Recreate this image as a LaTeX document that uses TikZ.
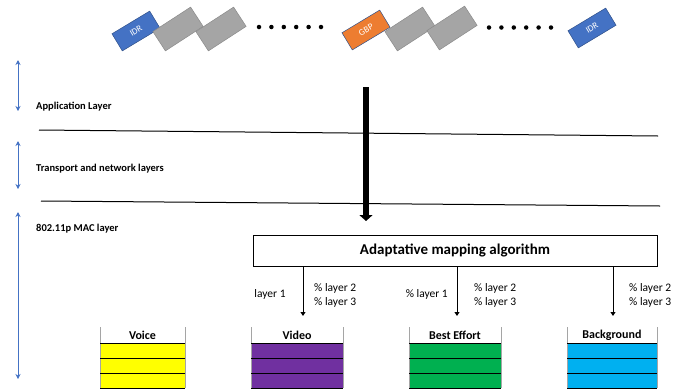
\documentclass[tikz,border=0pt]{standalone}
\usepackage{fontspec}
\setmainfont{Carlito}
\usetikzlibrary{arrows.meta}
\definecolor{ablue}{HTML}{4472C4}
\definecolor{aorange}{HTML}{ED7D31}
\definecolor{agray}{HTML}{A5A5A5}
\definecolor{agrayd}{HTML}{8A8A8A}
\definecolor{qyellow}{HTML}{FFFF00}
\definecolor{qpurple}{HTML}{7030A0}
\definecolor{qgreen}{HTML}{00B050}
\definecolor{qblue}{HTML}{00B0F0}
\begin{document}
\begin{tikzpicture}[x=1pt,y=-1pt,
  frame/.style={draw=ablue!70!black,line width=0.5pt,minimum width=44pt,minimum height=20pt,inner sep=0pt,text=white,font=\fontsize{9}{10}\selectfont},
  idr/.style={frame,fill=ablue,rotate=31},
  gbp/.style={frame,fill=aorange,rotate=31},
  grayf/.style={draw=agrayd,line width=0.5pt,fill=agray,minimum width=45pt,minimum height=23pt,inner sep=0pt,rotate=33},
  dot/.style={circle,fill=black,inner sep=0pt,minimum size=4.5pt},
  layerlbl/.style={anchor=west,font=\bfseries\fontsize{10.5}{12}\selectfont,inner sep=0pt},
  sidearrow/.style={draw=ablue,line width=1pt,{Stealth[length=5pt,width=5pt]}-{Stealth[length=5pt,width=5pt]}},
  sep/.style={draw=black,line width=1pt},
  smallarrow/.style={draw=black,line width=1pt,-{Triangle[length=4pt,width=5pt]}},
  pct/.style={font=\fontsize{11.5}{14}\selectfont,inner sep=0pt,align=left},
  qhead/.style={font=\bfseries\fontsize{12}{14}\selectfont,inner sep=0pt}
]
\useasboundingbox (0,0) rectangle (686,389);

% frames at top
\node[idr] (f1) at (136,31) {IDR};
\node[grayf] (g1) at (178,29) {};
\node[grayf] (g2) at (221,29) {};
\foreach \i in {0,...,5}{\node[dot] (da\i) at (259+12.4*\i,27) {};}
\node[gbp] (f2) at (366,30) {GBP};
\node[grayf] (g3) at (410,29) {};
\node[grayf] (g4) at (452,28) {};
\foreach \i in {0,...,5}{\node[dot] (db\i) at (489+12.4*\i,27.5) {};}
\node[idr] (f3) at (592,28) {IDR};

% left double arrows
\coordinate (a1t) at (18,60); \coordinate (a1b) at (18,111);
\coordinate (a2t) at (18,141); \coordinate (a2b) at (18,189);
\coordinate (a3t) at (18,212); \coordinate (a3b) at (18,379);
\draw[sidearrow] (a1t) -- (a1b);
\draw[sidearrow] (a2t) -- (a2b);
\draw[sidearrow] (a3t) -- (a3b);

\node[layerlbl] (l1) at (36,107) {Application Layer};
\node[layerlbl] (l2) at (36,169) {Transport and network layers};
\node[layerlbl] (l3) at (36,229) {802.11p MAC layer};

% separator lines
\coordinate (s1a) at (39,130); \coordinate (s1b) at (658,136);
\coordinate (s2a) at (41,201); \coordinate (s2b) at (660,206);
\draw[sep] (s1a) -- (s1b);
\draw[sep] (s2a) -- (s2b);

% big arrow
\coordinate (bt) at (366,87); \coordinate (bb) at (366,221);
\draw[line width=6pt,-{Triangle[length=6pt,width=13pt]}] (bt) -- (bb);

% algorithm box
\node[draw=black,line width=0.6pt,minimum width=404pt,minimum height=31pt,inner sep=0pt,
  font=\bfseries\fontsize{15}{17}\selectfont] (alg) at (455,250.5) {Adaptative mapping algorithm};

% small arrows
\coordinate (m1t) at (303,267); \coordinate (m1b) at (303,316);
\coordinate (m2t) at (457,267); \coordinate (m2b) at (457,316);
\coordinate (m3t) at (613,267); \coordinate (m3b) at (613,316);
\draw[smallarrow] (m1t) -- (m1b);
\draw[smallarrow] (m2t) -- (m2b);
\draw[smallarrow] (m3t) -- (m3b);

\node[pct] (t1) at (270,294) {layer 1};
\node[pct,anchor=west] (t2) at (314,295) {\% layer 2\\\% layer 3};
\node[pct,anchor=east] (t3) at (448,294) {\% layer 1};
\node[pct,anchor=west] (t4) at (474,295) {\% layer 2\\\% layer 3};
\node[pct,anchor=west] (t5) at (629,295) {\% layer 2\\\% layer 3};

% queues
\newcommand{\myqueue}[5]{%
  \fill[#4] (#1,343) rectangle (#2,388);
  \draw[agray,line width=1pt] (#1,327) -- (#1,388) (#2,327) -- (#2,388);
  \draw[black,line width=0.8pt] (#1,343) -- (#2,343) (#1,358) -- (#2,358) (#1,373) -- (#2,373) (#1,388) -- (#2,388);
  \node[qhead] (#5) at ({(#1+#2)/2},335.5) {#3};
}
\myqueue{100}{185}{Voice}{qyellow}{qv}
\myqueue{251}{343}{Video}{qpurple}{qvi}
\myqueue{409}{501}{Best Effort}{qgreen}{qbe}
\myqueue{567}{657}{Background}{qblue}{qbg}
\end{tikzpicture}
\end{document}
